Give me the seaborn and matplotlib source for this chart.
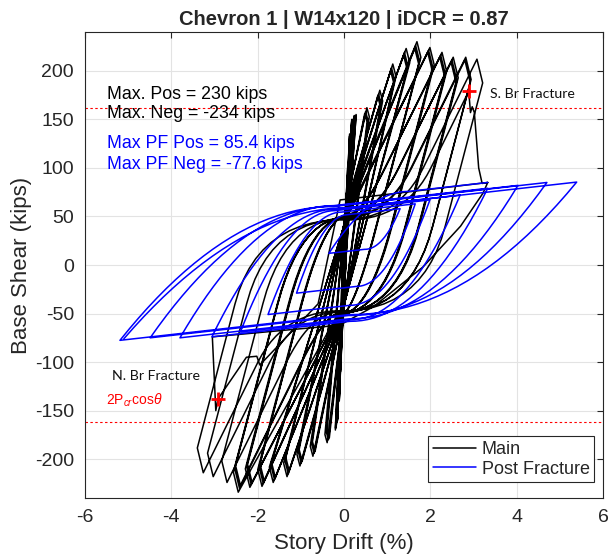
import numpy as np
import pandas as pd
import matplotlib
matplotlib.use("Agg")
import matplotlib.pyplot as plt
import seaborn as sns

# ---------------- data ----------------
# Main (pre-fracture) cycle force peaks, in time order
main_pos_drift = [0.03, 0.03, 0.06, 0.06, 0.09, 0.09, 0.13, 0.13, 0.18, 0.18, 0.20, 0.24, 0.24, 0.26, 0.28, 0.28,
                  0.53, 0.50, 0.48, 0.83, 0.80, 0.78, 1.13, 1.10, 1.08, 1.44, 1.40, 1.38,
                  1.69, 1.66, 1.64, 1.99, 1.96, 1.94, 2.27, 2.24, 2.22, 2.53, 2.50, 2.48,
                  2.82, 2.80, 3.08]
main_pos_force = [40, 40, 75, 74, 105, 103, 135, 133, 150, 148, 150, 154, 152, 153, 155, 154,
                  162, 158, 156, 180, 176, 174, 207, 203, 200, 223, 219, 216,
                  230, 226, 223, 224, 221, 219, 219, 216, 214, 214, 211, 209,
                  214, 211, 212]
main_neg_drift = [-0.02, -0.02, -0.05, -0.05, -0.08, -0.08, -0.11, -0.11, -0.15, -0.15, -0.16, -0.18, -0.18, -0.19, -0.20, -0.20,
                  -0.39, -0.36, -0.34, -0.72, -0.69, -0.67, -1.02, -0.99, -0.97, -1.32, -1.29, -1.27,
                  -1.64, -1.61, -1.59, -1.90, -1.87, -1.85, -2.18, -2.15, -2.13, -2.45, -2.42, -2.40,
                  -2.71, -3.03, -3.26]
main_neg_force = [-40, -40, -75, -74, -110, -108, -140, -138, -160, -158, -162, -166, -165, -168, -170, -168,
                  -183, -180, -178, -197, -194, -192, -207, -204, -202, -218, -215, -212,
                  -224, -221, -219, -228, -225, -222, -229, -226, -224, -234, -230, -227,
                  -224, -218, -214]

# South brace fracture, then path through the north brace fracture
s_frac = (2.89, 179)
n_frac = (-2.92, -138)
frac_path_drift = [2.93, 2.97, 3.02, 3.12, 3.20, 3.33, -0.09, -0.60, -1.95, -2.02, -2.26,
                   -2.92, -2.97, -3.05, -0.10, 0.68, 1.83, 2.70, 3.22, 3.33]
frac_path_force = [157, 163, 157, 100, 84, 85, 67, -40, -103, -94, -95,
                   -138, -150, -74, -62, -43, -2, 40, 74, 85]

# Post-fracture cycle tips, in time order (last entry closes the final loop)
pf_neg_drift = [-0.35, -1.10, -1.76, -2.40, -3.06, -3.80, -4.49, -5.19, -5.10]
pf_neg_force = [12, -29, -51, -69, -74, -75, -75, -77.6, -76]
pf_pos_drift = [1.30, 1.65, 1.99, 2.69, 3.33, 4.03, 4.70, 5.39]
pf_pos_force = [58, 63, 67, 72, 79, 82, 85, 85.4]

twoPcr = 162
x_ticks = [-6, -4, -2, 0, 2, 4, 6]
y_ticks = [-200, -150, -100, -50, 0, 50, 100, 150, 200]

# ---------------- path construction helpers ----------------
S_UNL = 170.0   # unloading stiffness (kips/%)
S_ARR = 90.0    # stiffness of final approach to a force peak


def bez(a, k, c, n=14):
    a, k, c = map(np.asarray, (a, k, c))
    t = np.linspace(0, 1, n)[1:-1][:, None]
    return list(map(tuple, (1 - t) ** 2 * a + 2 * (1 - t) * t * k + t ** 2 * c))


def inelastic(x):
    return abs(x) > 0.3


def up(n_end, p, degrade=True):
    dn, Fn = n_end
    dp, Fp = p
    pts = []
    if inelastic(dn) or inelastic(dp):
        c = (0.02 + 0.04 * abs(dn), 60 - 4 * abs(dn))
        q = (dn + (-40 - Fn) / S_UNL, -40)
        k = (dn + (50 - Fn) / S_UNL, 50)
        if k[0] < c[0] - 0.3:
            pts += [q] + bez(q, k, c)
        pts += [c]
        k2 = (dp - (Fp - c[1] - 2) / S_ARR, c[1] + 2)
        r = (dp - (Fp - 100) / S_ARR, 100)
        if k2[0] > c[0] + 0.3:
            pts += bez(c, k2, r) + [r]
        pts += [p]
        if degrade and inelastic(dp):
            pts += [(dp + 0.04 + 0.03 * dp, Fp - 6 - 6 * dp)]
    else:
        pts += [(dn * 0.3 + 0.05, 0), p]
    return pts


def down(p_end, n, degrade=True):
    dp, Fp = p_end
    dn, Fn = n
    pts = []
    if inelastic(dn) or inelastic(dp):
        c = (-(0.02 + 0.04 * abs(dp)), -60 + 4 * abs(dp))
        q = (dp - (Fp - 40) / S_UNL, 40)
        k = (dp - (Fp + 50) / S_UNL, -50)
        if k[0] > c[0] + 0.3:
            pts += [q] + bez(q, k, c)
        pts += [c]
        k2 = (dn + (c[1] - 2 - Fn) / S_ARR, c[1] - 2)
        r = (dn + (-100 - Fn) / S_ARR, -100)
        if k2[0] < c[0] - 0.3:
            pts += bez(c, k2, r) + [r]
        pts += [n]
        if degrade and inelastic(dn):
            pts += [(dn - 0.04 + 0.03 * dn, Fn + 6 - 6 * dn)]
    else:
        pts += [(dp * 0.3 - 0.05, 0), n]
    return pts


def pf_up(n, p, m=24):
    dn, Fn = n
    dp, Fp = p
    xm = dn + 0.5 * (dp - dn)
    Fm = Fn + 5 * (xm - dn)
    t = np.linspace(0, 1, m)
    return [(xm, Fm)] + list(zip(xm + (dp - xm) * t[1:], Fm + (Fp - Fm) * t[1:] ** 2.1))


def pf_down(p, n, m=24):
    dp, Fp = p
    dn, Fn = n
    xm = dp - 0.5 * (dp - dn)
    Fm = Fp - 5 * (dp - xm)
    t = np.linspace(0, 1, m)
    return [(xm, Fm)] + list(zip(xm + (dn - xm) * t[1:], Fm - (Fm - Fn) * t[1:] ** 2.0))


# Main series
main_pts = [(0.0, 0.0)]
cur = (0.0, 0.0)
for i in range(len(main_pos_drift)):
    P = (main_pos_drift[i], main_pos_force[i])
    N = (main_neg_drift[i], main_neg_force[i])
    main_pts += up(cur, P) if i > 0 else [P]
    main_pts += down(main_pts[-1], N)
    cur = main_pts[-1]
main_pts += up(cur, s_frac, degrade=False)
main_pts += list(zip(frac_path_drift, frac_path_force))

# Post-fracture series
pf_pts = [main_pts[-1]]
cur = main_pts[-1]
for i in range(len(pf_neg_drift)):
    N = (pf_neg_drift[i], pf_neg_force[i])
    pf_pts += pf_down(cur, N)
    if i < len(pf_pos_drift):
        P = (pf_pos_drift[i], pf_pos_force[i])
        pf_pts += pf_up(N, P)
        cur = P

df = pd.concat([
    pd.DataFrame({"drift": [p[0] for p in main_pts], "force": [p[1] for p in main_pts],
                  "series": "Main"}),
    pd.DataFrame({"drift": [p[0] for p in pf_pts], "force": [p[1] for p in pf_pts],
                  "series": "Post Fracture"}),
], ignore_index=True)

# ---------------- plotting ----------------
sns.set_style("white")
plt.rcParams["font.family"] = ["Liberation Sans", "DejaVu Sans"]
plt.rcParams["mathtext.fontset"] = "custom"
plt.rcParams["mathtext.rm"] = "Liberation Sans"
plt.rcParams["mathtext.it"] = "Liberation Sans:italic"

fig = plt.figure(figsize=(6.15, 5.59), dpi=100)
ax = fig.add_axes([85 / 615, 1 - 498 / 559, 518 / 615, 466 / 559])

sns.lineplot(data=df, x="drift", y="force", hue="series", sort=False, estimator=None,
             palette={"Main": "black", "Post Fracture": "#0000ff"}, linewidth=1.1,
             ax=ax, legend=True)

ax.axhline(twoPcr, color="red", ls=(0, (2.2, 2.2)), lw=0.8, zorder=1)
ax.axhline(-twoPcr, color="red", ls=(0, (2.2, 2.2)), lw=0.8, zorder=1)

ax.plot([s_frac[0], n_frac[0]], [s_frac[1], n_frac[1]], ls="none", marker="+",
        color="red", ms=10, mew=2, zorder=5)

ax.set_xlim(-6, 6)
ax.set_ylim(-240, 240)
ax.set_xticks(x_ticks)
ax.set_yticks(y_ticks)
ax.set_xticklabels([str(v) for v in x_ticks])
ax.set_yticklabels([str(v) for v in y_ticks])
ax.grid(True, color="#e3e3e3", lw=0.8)
ax.set_axisbelow(True)
for s in ax.spines.values():
    s.set_visible(True)
    s.set_color("#262626")
    s.set_linewidth(0.8)
ax.tick_params(direction="in", length=4, width=0.8, color="#262626",
               labelsize=14, labelcolor="#262626", top=True, right=True, pad=8)

ax.set_xlabel("Story Drift (%)", fontsize=16, color="#262626", labelpad=5)
ax.set_ylabel("Base Shear (kips)", fontsize=16, color="#262626", labelpad=2)
ax.set_title("Chevron 1 | W14x120 | iDCR = 0.87", fontsize=14.5, fontweight="bold", pad=5)

ax.text(-5.49, 176, "Max. Pos = 230 kips", fontsize=12.8, va="center", ha="left", color="black")
ax.text(-5.49, 156, "Max. Neg = -234 kips", fontsize=12.8, va="center", ha="left", color="black")
ax.text(-5.49, 125, "Max PF Pos = 85.4 kips", fontsize=12.8, va="center", ha="left", color="#0000ff")
ax.text(-5.49, 104, "Max PF Neg = -77.6 kips", fontsize=12.8, va="center", ha="left", color="#0000ff")

ax.text(3.38, 176, "S. Br Fracture", fontsize=10.2, va="center", ha="left",
        family=["Lato", "DejaVu Sans"], color="#111111")
ax.text(-5.37, -114, "N. Br Fracture", fontsize=10.2, va="center", ha="left",
        family=["Lato", "DejaVu Sans"], color="#111111")
ax.text(-5.52, -139, r"2P$_{cr}$cos$\mathit{\theta}$", fontsize=10, va="center", ha="left",
        color="red")

handles, labels = ax.get_legend_handles_labels()
leg = ax.legend(handles, labels, loc="lower right", bbox_to_anchor=(0.983, 0.034),
                borderaxespad=0, fontsize=13, frameon=True, fancybox=False,
                edgecolor="#262626", framealpha=1, handlelength=2.4,
                handletextpad=0.3, borderpad=0.25, labelspacing=0.15)
leg.get_frame().set_linewidth(0.8)

fig.savefig("out.png", dpi=100)
